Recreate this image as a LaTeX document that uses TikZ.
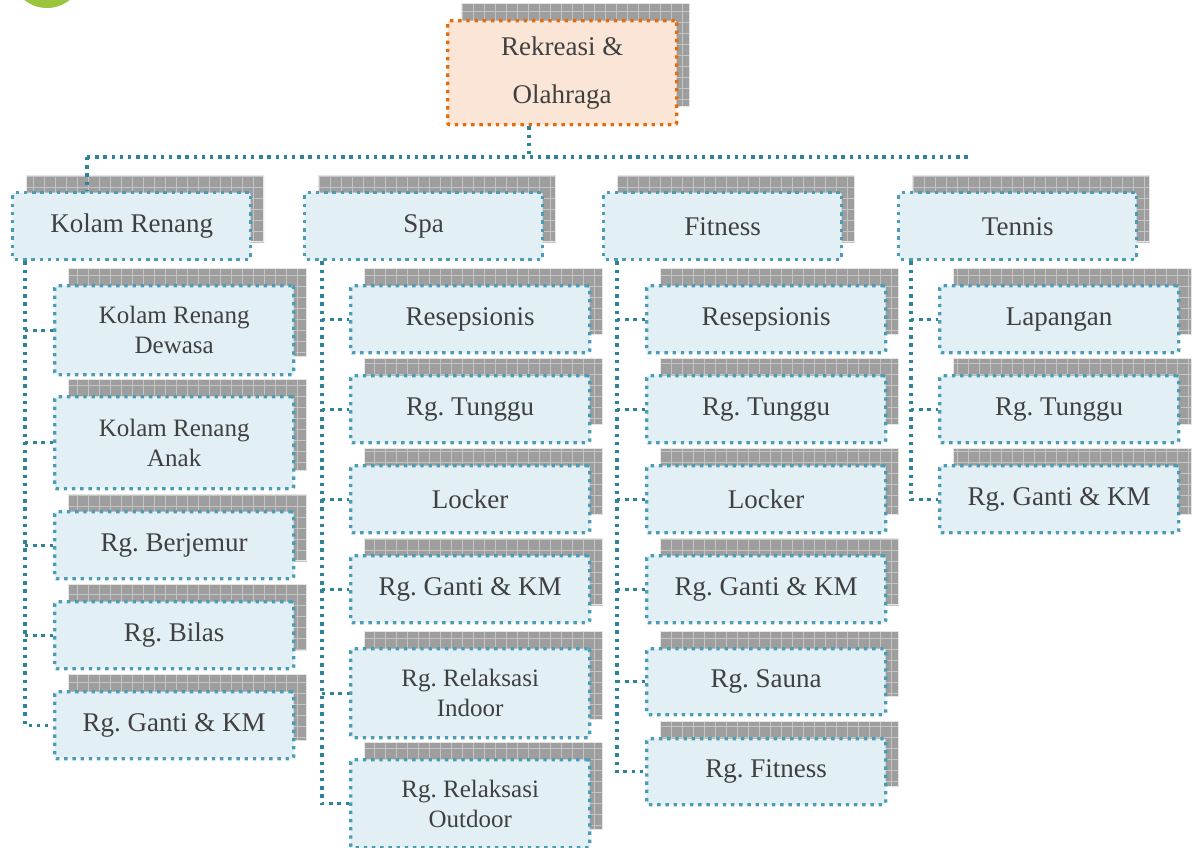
\documentclass[tikz,border=0pt]{standalone}
\usepackage{fontspec}
\setmainfont{Liberation Serif}
\newfontfamily\serifface{Liberation Serif}
\frenchspacing
\usetikzlibrary{calc}

\definecolor{txt}{HTML}{404040}
\definecolor{cardfill}{HTML}{E2EFF4}
\definecolor{cardline}{HTML}{4A9DB5}
\definecolor{linkline}{HTML}{2E8399}
\definecolor{headfill}{HTML}{FBE5D6}
\definecolor{headline}{HTML}{E46C0A}
\definecolor{shadefill}{HTML}{9E9E9E}
\definecolor{shadegrid}{HTML}{C4C4C4}
\definecolor{logo}{HTML}{9BC53D}

\tikzset{
  dots/.style={line width=3.4pt, dash pattern=on 3.4pt off 4.8pt},
  card/.style={draw=cardline, fill=cardfill, dots, rounded corners=2pt,
    inner sep=0pt, align=center, text=txt, font=\serifface\fontsize{27}{32}\selectfont},
  cardtwo/.style={card, font=\serifface\fontsize{25}{30}\selectfont},
  headcard/.style={card, draw=headline, fill=headfill, font=\serifface\fontsize{27}{48}\selectfont},
  link/.style={draw=linkline, dots},
}

% #1 name, #2 style, #3 left, #4 top, #5 width, #6 height, #7 text
% draws the gridded drop shadow first, then the box itself
\newcommand\infocard[7]{%
  \begin{scope}
    \clip (#3+15,#4-16) rectangle ++(#5,#6);
    \fill[shadefill] (#3+15,#4-16) rectangle ++(#5,#6);
    \draw[shadegrid, line width=0.8pt, step=11pt] (#3+15,#4-16) grid ++(#5,#6);
  \end{scope}
  \draw[white!80!gray, line width=1.2pt] (#3+15.6,#4-15.4) rectangle ++(#5-1.2,#6-1.2);
  \node[#2, minimum width=#5pt, minimum height=#6pt, anchor=north west] (#1) at (#3,#4) {#7};
}

\begin{document}
\begin{tikzpicture}[x=1pt, y=-1pt]
  \useasboundingbox (0,0) rectangle (1197,847);
  \fill[white] (0,0) rectangle (1197,847);
  \fill[logo] (47,-28) circle (36pt);

  % root
  \infocard{top}{headcard}{446}{19}{229}{104}{Rekreasi \&\\Olahraga}

  % first level
  \infocard{kr}{card}{11}{191}{238}{67}{Kolam Renang}
  \infocard{spa}{card}{303}{191}{238}{67}{Spa}
  \infocard{fit}{card}{602}{191}{238}{67}{Fitness}
  \infocard{ten}{card}{897}{191}{238}{67}{Tennis}

  % Kolam Renang
  \infocard{k1}{cardtwo}{53}{284}{239}{89}{Kolam Renang\\Dewasa}
  \infocard{k2}{cardtwo}{53}{395}{239}{92}{Kolam Renang\\Anak}
  \infocard{k3}{card}{53}{510}{239}{67}{Rg. Berjemur}
  \infocard{k4}{card}{53}{600}{239}{67}{Rg. Bilas}
  \infocard{k5}{card}{53}{690}{239}{67}{Rg. Ganti \& KM}

  % Spa
  \infocard{s1}{card}{349}{284}{239}{67}{Resepsionis}
  \infocard{s2}{card}{349}{374}{239}{67}{Rg. Tunggu}
  \infocard{s3}{card}{349}{464}{239}{67}{Locker}
  \infocard{s4}{card}{349}{554}{239}{67}{Rg. Ganti \& KM}
  \infocard{s5}{cardtwo}{349}{647}{239}{89}{Rg. Relaksasi\\Indoor}
  \infocard{s6}{cardtwo}{349}{758}{239}{88}{Rg. Relaksasi\\Outdoor}

  % Fitness
  \infocard{f1}{card}{645}{284}{239}{67}{Resepsionis}
  \infocard{f2}{card}{645}{374}{239}{67}{Rg. Tunggu}
  \infocard{f3}{card}{645}{464}{239}{67}{Locker}
  \infocard{f4}{card}{645}{554}{239}{67}{Rg. Ganti \& KM}
  \infocard{f5}{card}{645}{647}{239}{66}{Rg. Sauna}
  \infocard{f6}{card}{645}{737}{239}{66}{Rg. Fitness}

  % Tennis
  \infocard{t1}{card}{938}{284}{239}{67}{Lapangan}
  \infocard{t2}{card}{938}{374}{239}{67}{Rg. Tunggu}
  \infocard{t3}{card}{938}{464}{239}{67}{Rg. Ganti \& KM}

  % root connectors
  \coordinate (hub) at (529,157);
  \coordinate (hl) at (87,157);
  \coordinate (hr) at (970,157);
  \draw[link] (top.south -| hub) -- (hub);
  \draw[link] (hl) -- (hr);
  \draw[link] (hl) -- (kr.north -| hl);

  % column trunks
  \coordinate (kt) at ([xshift=14pt]kr.south west);
  \coordinate (st) at ([xshift=19pt]spa.south west);
  \coordinate (ft) at ([xshift=15pt]fit.south west);
  \coordinate (tt) at ([xshift=14pt]ten.south west);

  \draw[link] (kt) |- (k5.west);
  \foreach \c in {k1,k2,k3,k4} \draw[link] (kt |- \c.west) -- (\c.west);
  \draw[link] (st) |- (s6.west);
  \foreach \c in {s1,s2,s3,s4,s5} \draw[link] (st |- \c.west) -- (\c.west);
  \draw[link] (ft) |- (f6.west);
  \foreach \c in {f1,f2,f3,f4,f5} \draw[link] (ft |- \c.west) -- (\c.west);
  \draw[link] (tt) |- (t3.west);
  \foreach \c in {t1,t2} \draw[link] (tt |- \c.west) -- (\c.west);
\end{tikzpicture}
\end{document}
